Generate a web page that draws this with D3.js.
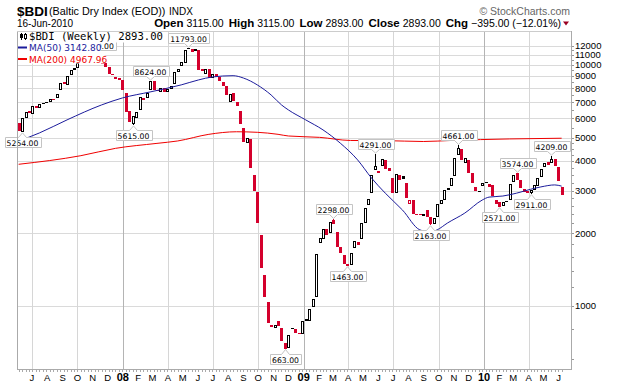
<!DOCTYPE html>
<html>
<head>
<meta charset="utf-8">
<script src="https://cdn.jsdelivr.net/npm/d3@7"></script>
<style>
  body { margin: 0; background: #fff; }
  svg { display: block; }
</style>
</head>
<body>
<script>
// weekly $BDI candles, Jun 2007 - Jun 2010
var width = 620, height = 383;
var plotLeft = 17, plotRight = 571, plotTop = 31, plotBottom = 369;

var asOf = new Date(2010, 5, 16);
var weeks = d3.timeMonday.range(new Date(2007, 5, 4), new Date(2010, 5, 8));

var opens = [
  5750, 5280, 6030, 6420, 6250, 6780, 6640, 6900, 6950, 7000,
  7250, 7300, 7880, 8500, 8300, 9050, 9530, 9700, 10200, 10600,
  10400, 10700, 10900, 10950, 10050, 10150, 9840, 9180, 8950, 8800,
  8700, 7660, 6450, 5700, 6050, 6500, 7300, 7270, 7880, 8550,
  7900, 7750, 8000, 7750, 7950, 8350, 9360, 9900, 10200, 11750,
  11600, 11400, 11540, 9600, 9200, 9600, 8850, 9150, 8900, 8500,
  8200, 7000, 7660, 7000, 6450, 5480, 4750, 4940, 3500, 2970,
  1970, 1340, 1040, 834, 811, 865, 811, 703, 669, 800,
  800, 775, 765, 885, 866, 990, 1090, 1830, 1900, 2090,
  2010, 2280, 2030, 1760, 1630, 1490, 1480, 1740, 1840, 1900,
  2210, 2620, 2930, 3670, 3640, 3820, 4040, 3740, 3390, 2930,
  3500, 3460, 3230, 2660, 2750, 2420, 2410, 2370, 2500, 2330,
  2180, 2330, 2660, 2760, 3040, 3150, 3450, 4240, 4500, 3920,
  4040, 3560, 3130, 3000, 3150, 3260, 3200, 3180, 2750, 2700,
  2610, 2720, 2750, 3260, 3560, 3340, 3060, 2990, 2930, 3030,
  3150, 3420, 3770, 3960, 3920, 4080, 3780, 3115
];
var closes = [
  5300, 6050, 6400, 6300, 6780, 6640, 6900, 6950, 7000, 7250,
  7150, 7600, 8450, 8350, 9000, 9530, 9720, 10200, 10600, 10400,
  10700, 10900, 10750, 10400, 10150, 9840, 9180, 9050, 8730, 8700,
  7880, 6390, 5800, 6150, 6400, 7400, 7160, 7640, 8550, 7900,
  7800, 8000, 7750, 7950, 8150, 9360, 9620, 10300, 11540, 11650,
  11350, 11600, 9530, 9450, 9600, 8830, 9200, 8900, 8600, 8200,
  7510, 7580, 7100, 6770, 5700, 4800, 4990, 3740, 3000, 2210,
  1440, 1090, 850, 820, 834, 825, 715, 663, 758, 811,
  772, 770, 866, 870, 970, 1070, 1640, 1920, 2090, 1970,
  2230, 2190, 1760, 1660, 1490, 1470, 1660, 1860, 1790, 2210,
  2550, 2790, 3500, 3800, 3560, 4080, 3700, 3640, 2930, 3530,
  3340, 3380, 2800, 2750, 2420, 2390, 2380, 2400, 2350, 2180,
  2320, 2660, 2750, 3030, 3080, 3390, 4120, 4530, 4040, 4120,
  3560, 3250, 3010, 3010, 3230, 3280, 3130, 2870, 2660, 2580,
  2700, 2740, 3210, 3500, 3340, 3100, 2970, 2950, 3030, 3180,
  3390, 3700, 3920, 3850, 4080, 3820, 3288, 2893
];

// labelled highs and lows (week index, value)
var markWeek  = [1, 22, 33, 38, 49, 77, 91, 95, 103, 119, 127, 139, 144, 148, 154];
var markValue = [5254, 11039, 5615, 8624, 11793, 663, 2298, 1463, 4291, 2163, 4661, 2571, 3574, 2911, 4209];
var markKind  = ['low', 'high', 'low', 'high', 'high', 'low', 'high', 'low', 'high', 'low', 'high', 'low', 'high', 'low', 'high'];

// moving averages (week index, value)
var ma50Week  = [0, 6, 14, 24, 30, 38, 47, 52, 56, 62, 65, 69, 73, 76, 78, 83, 88, 93, 98, 102, 106, 111, 116, 119, 121, 124, 129, 134, 136, 140, 144, 148, 151, 155, 157];
var ma50Value = [4838, 5224, 5920, 6830, 7300, 7730, 8270, 8670, 8920, 9030, 8830, 8270, 7510, 6830, 6510, 5920, 5380, 4740, 4040, 3400, 2940, 2500, 2070, 2030, 2070, 2210, 2430, 2750, 2830, 2860, 2940, 3050, 3120, 3180, 3142.80];
var ma200Week  = [0, 18, 28, 40, 46, 55, 63, 69, 75, 78, 87, 96, 106, 117, 125, 142, 157];
var ma200Value = [3873, 4205, 4510, 4730, 4840, 5157, 5285, 5257, 5157, 5075, 5010, 4862, 4855, 4815, 4862, 4935, 4967.96];

var yLabels = [1000, 2000, 3000, 4000, 5000, 6000, 7000, 8000, 9000, 10000, 11000, 12000];
var yMinor = [600, 800, 1200, 1400, 1600, 1800, 2200, 2400, 2600, 2800, 3250, 3500, 3750, 4250, 4500, 4750, 5500, 6500, 7500, 8500, 9500, 10500, 11500];

var red = '#d4002c', blue = '#1c1c9c', maRed = '#f00000';
var fmt = d3.format('.2f');

var x = d3.scaleTime()
  .domain([new Date(2007, 4, 31, 17), new Date(2010, 5, 25, 22)])
  .range([plotLeft, plotRight]);
var y = d3.scaleLog()
  .domain([547.7, 13840])
  .range([plotBottom, plotTop]);

var svg = d3.select('body').append('svg')
  .attr('width', width)
  .attr('height', height)
  .style('font-family', '"Liberation Sans", Arial, sans-serif');

svg.append('clipPath').attr('id', 'plotClip').append('rect')
  .attr('x', plotLeft).attr('y', plotTop)
  .attr('width', plotRight - plotLeft).attr('height', plotBottom - plotTop);

/*------------------------- grid -------------------------*/
svg.selectAll('.hgrid').data(yLabels).enter().append('line')
  .attr('x1', plotLeft).attr('x2', plotRight)
  .attr('y1', function(d) { return Math.round(y(d)) + 0.5; })
  .attr('y2', function(d) { return Math.round(y(d)) + 0.5; })
  .attr('stroke', '#dadada');

var quarters = d3.timeMonth.every(3).range(x.domain()[0], x.domain()[1]);
svg.selectAll('.vgrid').data(quarters).enter().append('line')
  .attr('x1', function(d) { return Math.round(x(d)) + 0.5; })
  .attr('x2', function(d) { return Math.round(x(d)) + 0.5; })
  .attr('y1', plotTop).attr('y2', plotBottom)
  .attr('stroke', function(d) { return d.getMonth() === 0 ? '#b4b4b4' : '#d6d6d6'; });

/*------------------------- candles -------------------------*/
var plot = svg.append('g').attr('clip-path', 'url(#plotClip)');

var bars = weeks.map(function(d, i) {
  var prev = i > 0 ? closes[i - 1] : opens[i];
  return {date: d, open: opens[i], close: closes[i],
          up: closes[i] >= prev, hollow: closes[i] >= opens[i]};
});

// wicks for the labelled extremes
markWeek.forEach(function(w, k) {
  var b = bars[w];
  var c = Math.round(x(b.date));
  var edge = markKind[k] === 'high' ? Math.max(b.open, b.close) : Math.min(b.open, b.close);
  plot.append('line')
    .attr('x1', c + 0.5).attr('x2', c + 0.5)
    .attr('y1', Math.round(y(edge))).attr('y2', Math.round(y(markValue[k])))
    .attr('stroke', b.up ? '#000' : red);
});

bars.forEach(function(b) {
  var c = Math.round(x(b.date));
  var top = Math.round(y(Math.max(b.open, b.close)));
  var bot = Math.round(y(Math.min(b.open, b.close)));
  var col = b.up ? '#000' : red;
  if (!b.hollow || bot - top < 2) {
    plot.append('rect')
      .attr('x', c - 1).attr('y', top)
      .attr('width', 3).attr('height', Math.max(1, bot - top))
      .attr('fill', col);
  } else {
    plot.append('rect')
      .attr('x', c - 0.5).attr('y', top + 0.5)
      .attr('width', 2).attr('height', bot - top - 1)
      .attr('fill', '#fff').attr('stroke', col);
  }
});

/*------------------------- moving averages -------------------------*/
var maLine = d3.line()
  .x(function(d) { return x(weeks[d[0]]); })
  .y(function(d) { return y(d[1]); })
  .curve(d3.curveMonotoneX);

plot.append('path')
  .datum(ma200Week.map(function(w, i) { return [w, ma200Value[i]]; }))
  .attr('d', maLine).attr('fill', 'none').attr('stroke', maRed).attr('stroke-width', 1);
plot.append('path')
  .datum(ma50Week.map(function(w, i) { return [w, ma50Value[i]]; }))
  .attr('d', maLine).attr('fill', 'none').attr('stroke', blue).attr('stroke-width', 1);

/*------------------------- high / low labels -------------------------*/
markWeek.forEach(function(w, k) {
  var c = Math.round(x(weeks[w])) + 0.5;
  var tip = y(markValue[k]);
  var isHigh = markKind[k] === 'high';
  var g = svg.append('g');
  var t = g.append('text')
    .attr('x', c).attr('text-anchor', 'middle')
    .style('font-family', '"DejaVu Sans", Verdana, sans-serif')
    .style('font-size', '7.7px')
    .attr('fill', '#000')
    .text(fmt(markValue[k]));
  var tw = t.node().getComputedTextLength();
  var bw = Math.round(tw + 4), bh = 10;
  var left = Math.round(c - bw / 2) + 0.5, right = left + bw;
  var boxTop, boxBot, path;
  if (isHigh) {
    boxBot = Math.round(tip - 5) + 0.5; boxTop = boxBot - bh;
    path = 'M' + left + ',' + boxTop + 'H' + right + 'V' + boxBot + 'H' + (c + 4) +
      'L' + c + ',' + (tip - 0.5) + 'L' + (c - 4) + ',' + boxBot + 'H' + left + 'Z';
  } else {
    boxTop = Math.round(tip + 5) + 0.5; boxBot = boxTop + bh;
    path = 'M' + left + ',' + boxTop + 'H' + (c - 4) + 'L' + c + ',' + (tip + 0.5) +
      'L' + (c + 4) + ',' + boxTop + 'H' + right + 'V' + boxBot + 'H' + left + 'Z';
  }
  g.insert('path', 'text').attr('d', path).attr('fill', '#fff').attr('stroke', '#c4c4c4');
  t.attr('y', boxBot - 2);
});

/*------------------------- legend -------------------------*/
var lastClose = closes[closes.length - 1];
var legend = svg.append('g');
legend.append('rect').attr('x', plotLeft + 0.5).attr('y', plotTop + 0.5).attr('width', 148).attr('height', 11).attr('fill', '#fff');
legend.append('rect').attr('x', plotLeft + 0.5).attr('y', 42.5).attr('width', 83).attr('height', 10.5).attr('fill', '#fff');
legend.append('rect').attr('x', plotLeft + 0.5).attr('y', 53).attr('width', 87).attr('height', 10.5).attr('fill', '#fff');

// tiny candle icon
legend.append('line').attr('x1', 21.5).attr('x2', 21.5).attr('y1', 33).attr('y2', 40).attr('stroke', '#000');
legend.append('rect').attr('x', 20).attr('y', 34).attr('width', 3).attr('height', 4).attr('fill', '#000');
legend.append('line').attr('x1', 25.5).attr('x2', 25.5).attr('y1', 33).attr('y2', 40).attr('stroke', '#000');
legend.append('rect').attr('x', 24.5).attr('y', 34.5).attr('width', 2).attr('height', 4).attr('fill', '#fff').attr('stroke', '#000');

legend.append('text').attr('x', 29).attr('y', 40)
  .style('font-family', '"DejaVu Sans Mono", monospace').style('font-size', '10.6px')
  .attr('fill', '#000')
  .text('$BDI (Weekly) ' + fmt(lastClose));

legend.append('line').attr('x1', 18).attr('x2', 27).attr('y1', 47.5).attr('y2', 47.5).attr('stroke', blue).attr('stroke-width', 2);
legend.append('text').attr('x', 29).attr('y', 51)
  .style('font-family', '"DejaVu Sans", Verdana, sans-serif').style('font-size', '9px')
  .attr('fill', blue)
  .text('MA(50) ' + fmt(ma50Value[ma50Value.length - 1]));

legend.append('line').attr('x1', 18).attr('x2', 27).attr('y1', 59).attr('y2', 59).attr('stroke', maRed).attr('stroke-width', 2);
legend.append('text').attr('x', 29).attr('y', 62.5)
  .style('font-family', '"DejaVu Sans", Verdana, sans-serif').style('font-size', '9px')
  .attr('fill', maRed)
  .text('MA(200) ' + fmt(ma200Value[ma200Value.length - 1]));

/*------------------------- frame & axes -------------------------*/
svg.append('line').attr('x1', plotLeft + 0.5).attr('x2', plotLeft + 0.5).attr('y1', plotTop).attr('y2', plotBottom).attr('stroke', '#aaa');
svg.append('line').attr('x1', plotLeft).attr('x2', plotRight).attr('y1', plotTop + 0.5).attr('y2', plotTop + 0.5).attr('stroke', '#ccc');
svg.append('line').attr('x1', plotLeft).attr('x2', plotRight + 1).attr('y1', plotBottom + 0.5).attr('y2', plotBottom + 0.5).attr('stroke', '#aaa');
svg.append('line').attr('x1', plotRight + 0.5).attr('x2', plotRight + 0.5).attr('y1', plotTop).attr('y2', plotBottom + 1).attr('stroke', '#aaa');

svg.selectAll('.ytick').data(yLabels.concat(yMinor)).enter().append('line')
  .attr('x1', plotRight + 1).attr('x2', plotRight + 3)
  .attr('y1', function(d) { return Math.round(y(d)) + 0.5; })
  .attr('y2', function(d) { return Math.round(y(d)) + 0.5; })
  .attr('stroke', '#999');

svg.selectAll('.ylab').data(yLabels).enter().append('text')
  .attr('x', plotRight + 4)
  .attr('y', function(d) { return y(d); })
  .attr('dy', '0.36em')
  .style('font-size', '9.5px')
  .attr('fill', '#000')
  .text(function(d) { return d; });

svg.selectAll('.xtick').data(weeks).enter().append('line')
  .attr('x1', function(d) { return Math.round(x(d)) + 0.5; })
  .attr('x2', function(d) { return Math.round(x(d)) + 0.5; })
  .attr('y1', plotBottom + 1).attr('y2', plotBottom + 3)
  .attr('stroke', '#aaa');

var months = d3.timeMonth.range(x.domain()[0], x.domain()[1]).filter(function(d) { return x(d) > plotLeft + 8; });
svg.selectAll('.xlab').data(months).enter().append('text')
  .attr('x', function(d) { return x(d); })
  .attr('y', 380.5)
  .attr('text-anchor', 'middle')
  .style('font-size', function(d) { return d.getMonth() === 0 ? '11px' : '9.5px'; })
  .style('font-weight', function(d) { return d.getMonth() === 0 ? 'bold' : 'normal'; })
  .attr('fill', '#000')
  .text(function(d) { return d.getMonth() === 0 ? d3.timeFormat('%y')(d) : d3.timeFormat('%b')(d).charAt(0); });

/*------------------------- header -------------------------*/
var n = closes.length;
var lastOpen = opens[n - 1];
var chg = lastClose - closes[n - 2];
var pct = chg / closes[n - 2] * 100;

svg.append('text').attr('x', 17).attr('y', 15.5)
  .style('font-size', '13.5px').style('font-weight', 'bold').attr('fill', '#000').text('$BDI');
svg.append('text').attr('x', 49).attr('y', 15)
  .style('font-size', '10.8px').attr('fill', '#000').text('(Baltic Dry Index (EOD))');
svg.append('text').attr('x', 169).attr('y', 15)
  .style('font-size', '10px').attr('fill', '#000').text('INDX');
svg.append('text').attr('x', 570).attr('y', 14.5).attr('text-anchor', 'end')
  .style('font-size', '10.5px').attr('fill', '#666').text('\u00a9 StockCharts.com');
svg.append('text').attr('x', 17).attr('y', 27)
  .style('font-size', '10px').attr('fill', '#000').text(d3.timeFormat('%d-%b-%Y')(asOf));

var stats = svg.append('text').attr('x', 561).attr('y', 27).attr('text-anchor', 'end').attr('fill', '#000');
var parts = [
  ['Open', fmt(lastOpen)],
  ['High', fmt(Math.max(lastOpen, lastClose))],
  ['Low', fmt(Math.min(lastOpen, lastClose))],
  ['Close', fmt(lastClose)],
  ['Chg', fmt(chg) + ' (' + fmt(pct) + '%)']
];
parts.forEach(function(p, i) {
  stats.append('tspan').attr('dx', i === 0 ? 0 : 5)
    .style('font-size', '11.5px').style('font-weight', 'bold').text(p[0]);
  stats.append('tspan').attr('dx', 3).style('font-size', '10.5px').text(p[1]);
});
svg.append('path').attr('d', 'M563,21.5L569,21.5L566,25.5Z').attr('fill', chg < 0 ? '#990022' : '#000');
</script>
</body>
</html>
